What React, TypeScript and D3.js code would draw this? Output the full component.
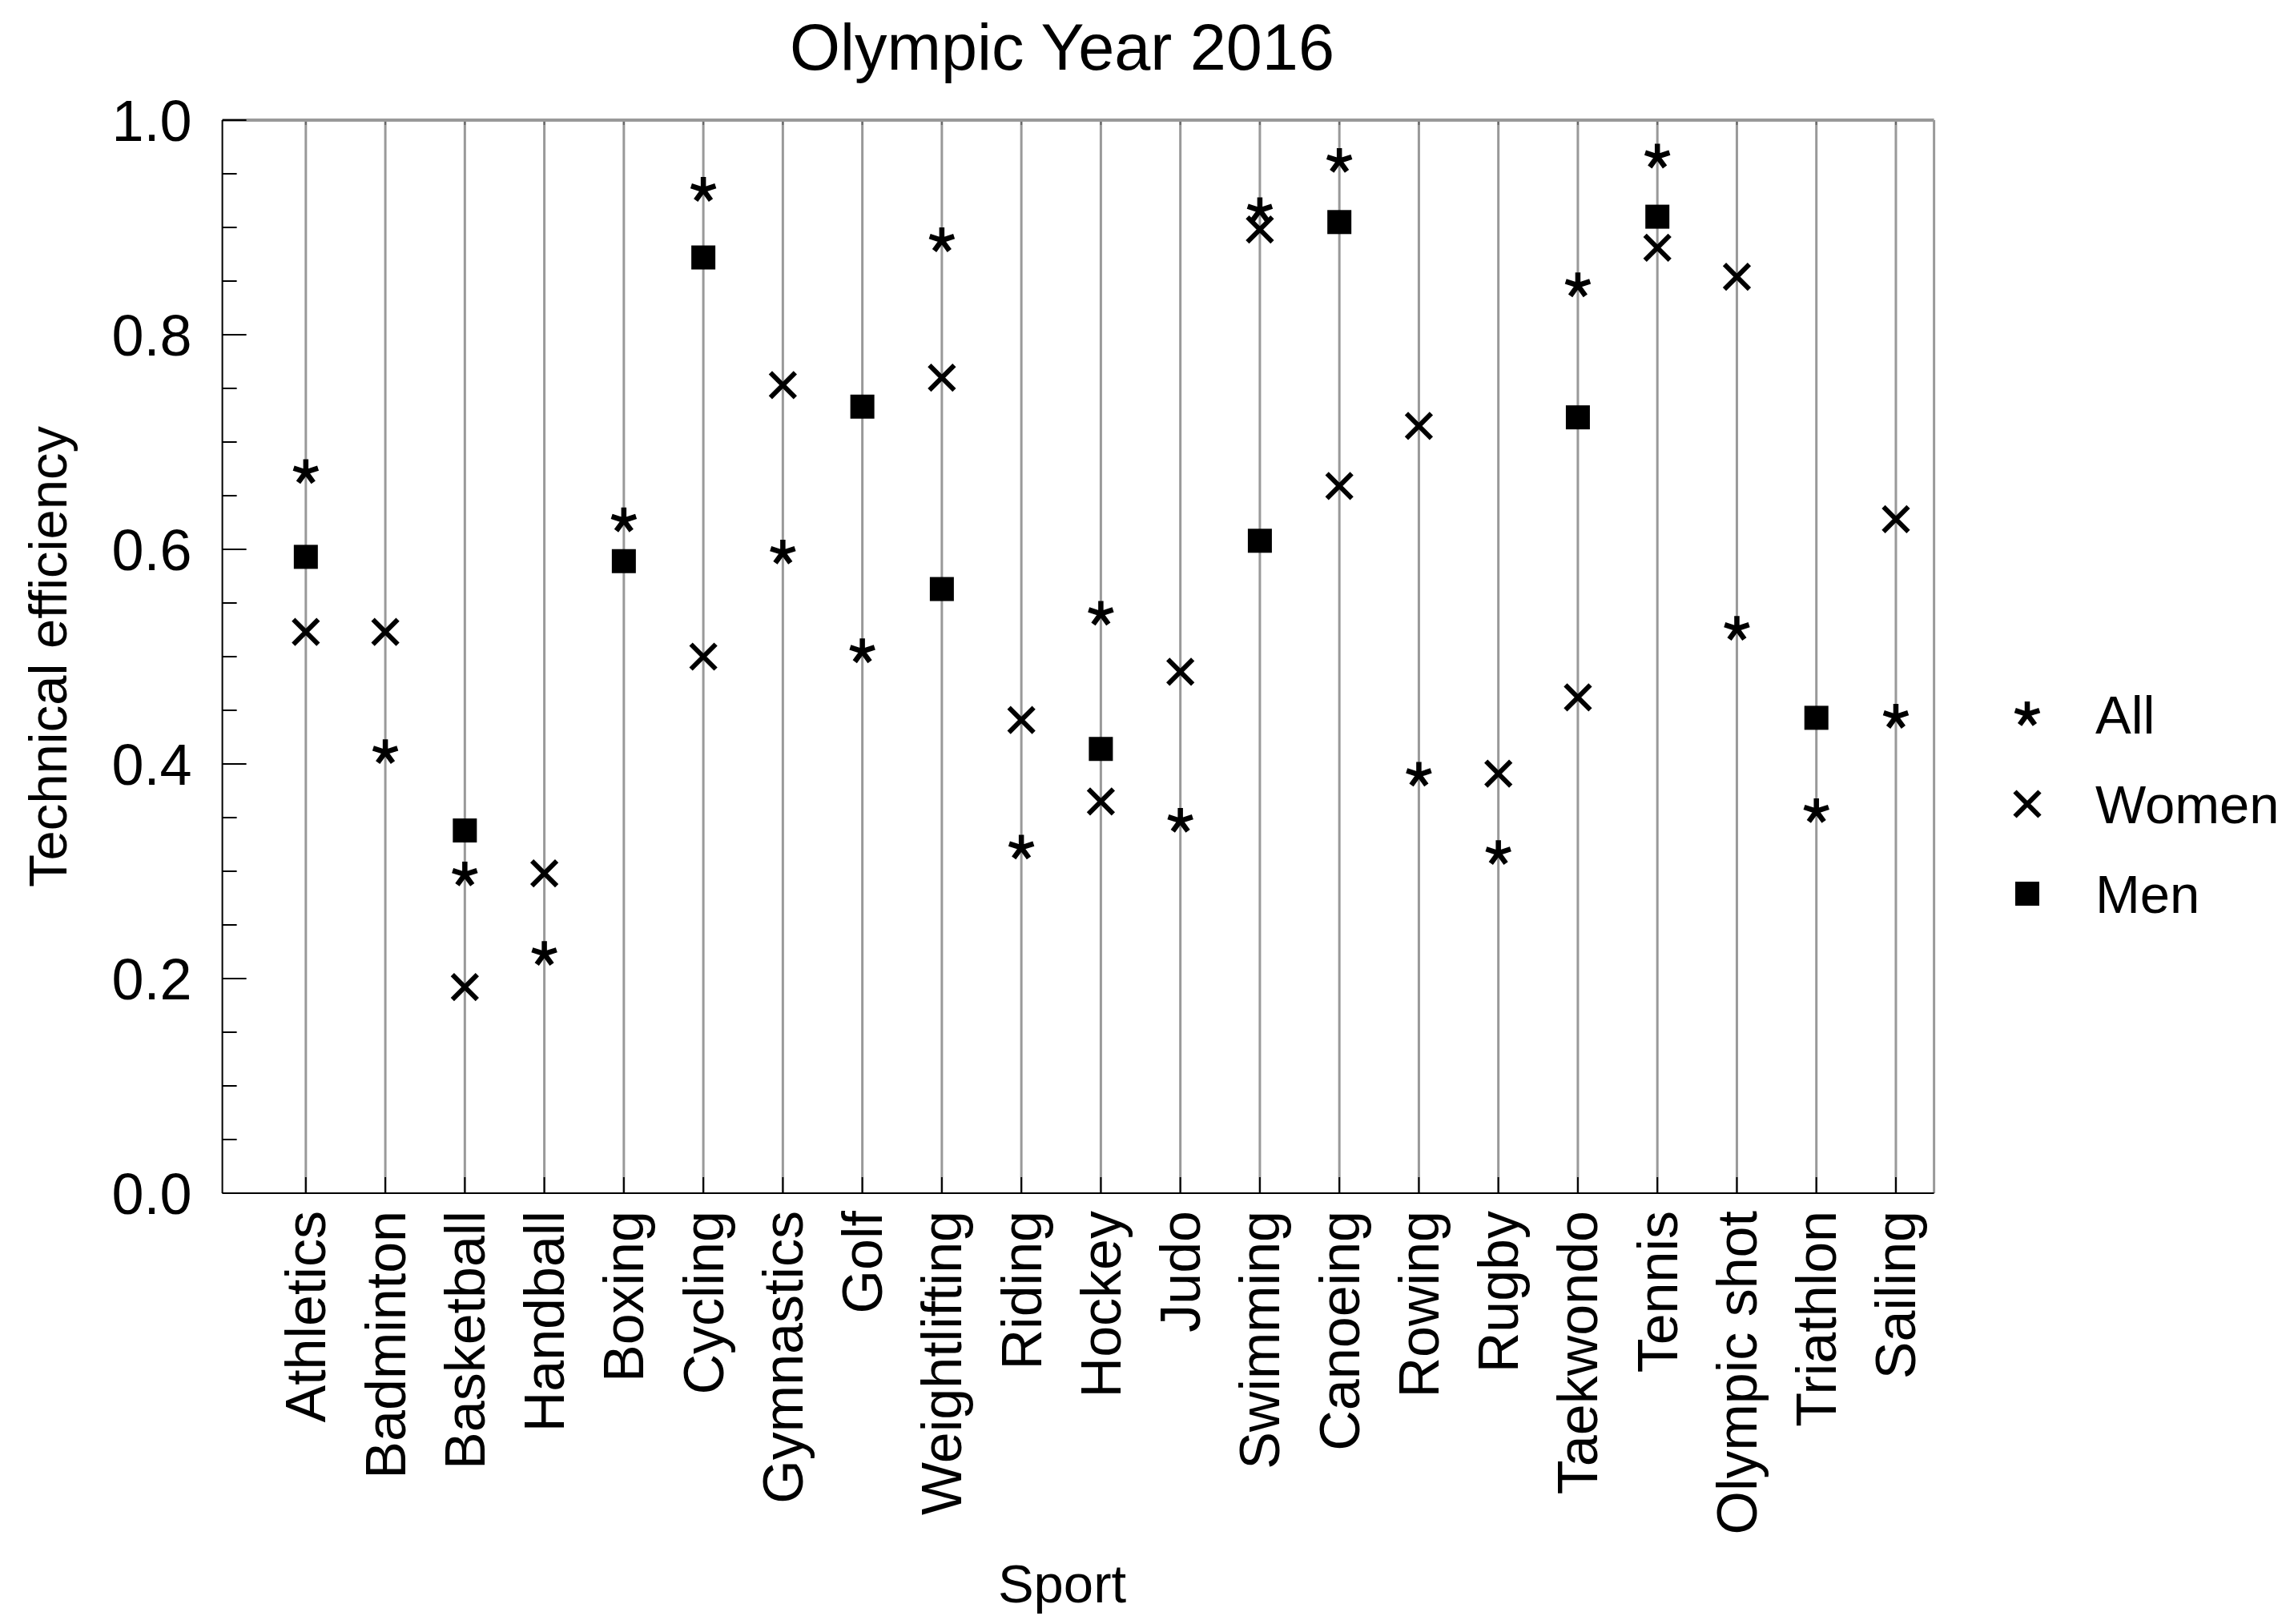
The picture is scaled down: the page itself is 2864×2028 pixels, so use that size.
import React from 'react';
import * as d3 from 'd3';

const sports = ['Athletics','Badminton','Basketball','Handball','Boxing','Cycling','Gymnastics','Golf','Weightlifting','Riding','Hockey','Judo','Swimming','Canoeing','Rowing','Rugby','Taekwondo','Tennis','Olympic shot','Triathlon','Sailing'];
const allValues: (number|null)[] = [0.672,0.411,0.297,0.223,0.627,0.935,0.597,0.505,0.888,0.322,0.540,0.347,0.916,0.962,0.390,0.317,0.846,0.966,0.526,0.356,0.444];
const womenValues: (number|null)[] = [0.523,0.523,0.192,0.298,null,0.500,0.753,null,0.760,0.441,0.365,0.486,0.898,0.659,0.715,0.391,0.462,0.881,0.854,null,0.628];
const menValues: (number|null)[] = [0.593,null,0.338,null,0.589,0.872,null,0.733,0.563,null,0.414,null,0.608,0.905,null,null,0.723,0.910,null,0.443,null];
const yMajorTicks = [0, 0.2, 0.4, 0.6, 0.8, 1.0];
const legendLabels = ['All', 'Women', 'Men'];

const W = 2864, H = 2028;
const FONT = '"Liberation Sans", Arial, Helvetica, sans-serif';

function Asterisk({ x, y, r = 16 }: { x: number; y: number; r?: number }) {
  const angles = [-90, -18, 54, 126, 198];
  const d = angles.map(a => {
    const rad = (a * Math.PI) / 180;
    return `M${x},${y}L${x + r * Math.cos(rad)},${y + r * Math.sin(rad)}`;
  }).join('');
  return <path d={d} stroke="#000" strokeWidth={6.5} fill="none" />;
}
function Cross({ x, y, r = 15.5 }: { x: number; y: number; r?: number }) {
  return <path d={`M${x - r},${y - r}L${x + r},${y + r}M${x - r},${y + r}L${x + r},${y - r}`} stroke="#000" strokeWidth={6} fill="none" />;
}
function Square({ x, y, s = 30 }: { x: number; y: number; s?: number }) {
  return <rect x={x - s / 2} y={y - s / 2} width={s} height={s} fill="#000" />;
}

export default function App() {
  const left = 277.6, right = 2414.6, top = 150, bottom = 1490;
  const x = d3.scaleLinear().domain([-1.05, 20.48]).range([left, right]);
  const y = d3.scaleLinear().domain([0, 1]).range([bottom, top]);
  const minorTicks = d3.range(0, 1.0001, 0.05).filter(v => !yMajorTicks.some(m => Math.abs(m - v) < 1e-6));
  const titleX = 1326;
  const legendY = [892, 1004, 1116];
  const legendMarkerX = 2531, legendTextX = 2616;
  return (
    <svg width={W} height={H} style={{ position: 'absolute', left: 0, top: 0, background: '#fff' }} fontFamily={FONT}>
      <rect x={0} y={0} width={W} height={H} fill="#fff" />
      <text x={titleX} y={87} fontSize={81} textAnchor="middle">Olympic Year 2016</text>
      {sports.map((s, i) => (
        <line key={s} x1={x(i)} x2={x(i)} y1={top} y2={bottom} stroke="#999" strokeWidth={3} />
      ))}
      {sports.map((s, i) => (
        <line key={'tt' + s} x1={x(i)} x2={x(i)} y1={top} y2={top + 6} stroke="#666" strokeWidth={2} />
      ))}
      <line x1={left} x2={right} y1={top} y2={top} stroke="#999" strokeWidth={4} />
      <line x1={right} x2={right} y1={top} y2={bottom} stroke="#999" strokeWidth={3} />
      <line x1={left} x2={left} y1={top} y2={bottom} stroke="#000" strokeWidth={2} />
      {yMajorTicks.map(t => (
        <g key={t}>
          <line x1={left} x2={left + 30} y1={y(t)} y2={y(t)} stroke="#000" strokeWidth={2} />
          <text x={left - 38} y={y(t)} dy="0.36em" fontSize={72} textAnchor="end">{d3.format('.1f')(t)}</text>
        </g>
      ))}
      {minorTicks.map(t => (
        <line key={'m' + t} x1={left} x2={left + 18} y1={y(t)} y2={y(t)} stroke="#000" strokeWidth={2} />
      ))}
      <line x1={left} x2={right} y1={bottom} y2={bottom} stroke="#000" strokeWidth={2} />
      {sports.map((s, i) => (
        <g key={'xt' + s}>
          <line x1={x(i)} x2={x(i)} y1={bottom} y2={bottom - 20} stroke="#000" strokeWidth={2} />
          <text transform={`translate(${x(i)},${bottom + 22}) rotate(-90)`} dy="0.35em" fontSize={70} textAnchor="end">{s}</text>
        </g>
      ))}
      <text transform={`translate(60,${(top + bottom) / 2}) rotate(-90)`} dy="0.35em" fontSize={67} textAnchor="middle">Technical efficiency</text>
      <text x={titleX} y={2001} fontSize={67} textAnchor="middle">Sport</text>
      {allValues.map((v, i) => v == null ? null : <Asterisk key={'a' + i} x={x(i)} y={y(v)} />)}
      {womenValues.map((v, i) => v == null ? null : <Cross key={'w' + i} x={x(i)} y={y(v)} />)}
      {menValues.map((v, i) => v == null ? null : <Square key={'n' + i} x={x(i)} y={y(v)} />)}
      {legendLabels.map((l, k) => (
        <g key={l}>
          {k === 0 ? <Asterisk x={legendMarkerX} y={legendY[k]} /> : k === 1 ? <Cross x={legendMarkerX} y={legendY[k]} /> : <Square x={legendMarkerX} y={legendY[k]} />}
          <text x={legendTextX} y={legendY[k]} dy="0.36em" fontSize={67}>{l}</text>
        </g>
      ))}
    </svg>
  );
}
